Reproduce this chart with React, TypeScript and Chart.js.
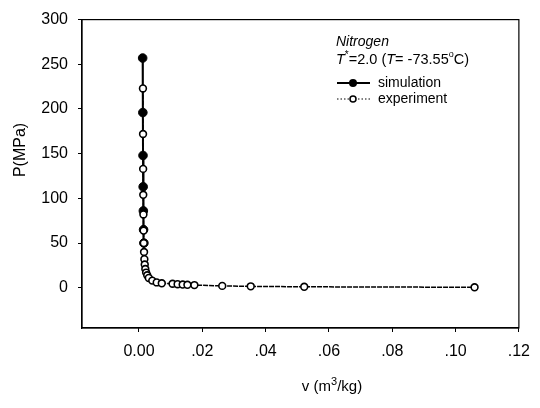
import { useEffect, useRef } from "react";
import { Chart, registerables } from "chart.js";

Chart.register(...registerables);

// ---- data (v in m^3/kg, P in MPa) ----
const simV = [0.00116, 0.00122, 0.00127, 0.00132, 0.00138, 0.00145, 0.00155];
const simP = [257, 196, 148, 113, 86, 65, 50];

const expV = [
  0.00125, 0.00128, 0.00131, 0.00135, 0.0014, 0.00146, 0.00152, 0.0016, 0.0017,
  0.00182, 0.002, 0.00225, 0.0026, 0.0031, 0.0042, 0.0056, 0.0072, 0.0106,
  0.0122, 0.0138, 0.0153, 0.0175, 0.0263, 0.0353, 0.0522, 0.106,
];
const expP = [
  223, 172, 133, 104, 82, 64, 50, 40, 32, 26, 21, 17, 14, 11, 8, 6, 5, 4.5, 4,
  3.6, 3.3, 3, 2.1, 1.6, 1.1, 0.55,
];

const xTicks = [0, 0.02, 0.04, 0.06, 0.08, 0.1, 0.12];
const yTicks = [0, 50, 100, 150, 200, 250, 300];

const xTitleParts = ["v (m", "3", "/kg)"];
const yTitle = "P(MPa)";
const gasName = "Nitrogen";
const seriesNames = ["simulation", "experiment"];

const FONT = "'Liberation Sans', Arial, sans-serif";

const annotate = {
  id: "annotate",
  beforeDatasetsDraw(chart: any) {
    const { ctx, chartArea } = chart;
    ctx.save();
    ctx.strokeStyle = "#000";
    ctx.lineWidth = 1.2;
    ctx.strokeRect(chartArea.left, chartArea.top, chartArea.right - chartArea.left, chartArea.bottom - chartArea.top);
    ctx.restore();
  },
  afterDraw(chart: any) {
    const { ctx } = chart;
    ctx.save();
    ctx.fillStyle = "#000";
    ctx.textBaseline = "middle";

    // x axis title with superscript
    ctx.textAlign = "left";
    const xf: [string, string, number][] = [
      [xTitleParts[0], "15px", 0],
      [xTitleParts[1], "11px", -5],
      [xTitleParts[2], "15px", 0],
    ];
    let tw = 0;
    for (const [t, f] of xf) {
      ctx.font = `${f} ${FONT}`;
      tw += ctx.measureText(t).width;
    }
    let xx = 332 - tw / 2;
    for (const [t, f, dy] of xf) {
      ctx.font = `${f} ${FONT}`;
      ctx.fillText(t, xx, 387 + dy);
      xx += ctx.measureText(t).width;
    }

    // y axis title
    ctx.font = `16px ${FONT}`;
    ctx.textAlign = "center";
    ctx.save();
    ctx.translate(21, 150);
    ctx.rotate(-Math.PI / 2);
    ctx.fillText(yTitle, 0, 0);
    ctx.restore();

    // annotation block
    ctx.textAlign = "left";
    const x0 = 336;
    ctx.font = `italic 14px ${FONT}`;
    ctx.fillText(gasName, x0, 42);

    const pieces: [string, string, number][] = [
      ["T", "italic 14.5px", 0],
      ["*", "10px", -5],
      ["=2.0 (", "14.5px", 0],
      ["T", "italic 14.5px", 0],
      ["= -73.55", "14.5px", 0],
      ["o", "9px", -5],
      ["C)", "14.5px", 0],
    ];
    let x = x0;
    for (const [t, f, dy] of pieces) {
      ctx.font = `${f} ${FONT}`;
      ctx.fillText(t, x, 60 + dy);
      x += ctx.measureText(t).width;
    }

    // legend
    ctx.font = `14px ${FONT}`;
    const ly = [83, 99];
    ctx.strokeStyle = "#000";
    ctx.lineWidth = 2;
    ctx.setLineDash([]);
    ctx.beginPath();
    ctx.moveTo(337, ly[0]);
    ctx.lineTo(370, ly[0]);
    ctx.stroke();
    ctx.beginPath();
    ctx.arc(353, ly[0], 4, 0, Math.PI * 2);
    ctx.fill();
    ctx.fillText(seriesNames[0], 378, ly[0]);

    ctx.lineWidth = 1;
    ctx.setLineDash([1.5, 2]);
    ctx.beginPath();
    ctx.moveTo(337, ly[1]);
    ctx.lineTo(370, ly[1]);
    ctx.stroke();
    ctx.setLineDash([]);
    ctx.fillStyle = "#fff";
    ctx.lineWidth = 1.5;
    ctx.beginPath();
    ctx.arc(353, ly[1], 3, 0, Math.PI * 2);
    ctx.fill();
    ctx.stroke();
    ctx.fillStyle = "#000";
    ctx.fillText(seriesNames[1], 378, ly[1]);
    ctx.restore();
  },
};

export default function App() {
  const ref = useRef<HTMLCanvasElement | null>(null);
  useEffect(() => {
    document.body.style.margin = "0";
    const canvas = ref.current!;
    const chart = new Chart(canvas, {
      type: "scatter",
      data: {
        datasets: [
          {
            label: seriesNames[1],
            data: expV.map((v, i) => ({ x: v, y: expP[i] })),
            showLine: true,
            borderColor: "#000",
            borderWidth: 1.5,
            borderDash: [5, 1],
            pointRadius: 3.4,
            pointBackgroundColor: "#fff",
            pointBorderColor: "#000",
            pointBorderWidth: 1.6,
            order: 0,
          },
          {
            label: seriesNames[0],
            data: simV.map((v, i) => ({ x: v, y: simP[i] })),
            showLine: true,
            borderColor: "#000",
            borderWidth: 2,
            pointRadius: 4.3,
            pointBackgroundColor: "#000",
            pointBorderColor: "#000",
            pointBorderWidth: 1,
            order: 1,
          },
        ],
      },
      options: {
        responsive: false,
        animation: false,
        layout: { padding: { top: 14, right: 17, left: 0, bottom: 0 } },
        plugins: { legend: { display: false }, tooltip: { enabled: false } },
        scales: {
          x: {
            type: "linear",
            min: -0.018,
            max: 0.12,
            afterBuildTicks: (s: any) => {
              s.ticks = xTicks.map((v) => ({ value: v }));
            },
            afterFit: (s: any) => {
              s.height = 80;
            },
            ticks: {
              color: "#000",
              font: { family: FONT, size: 16 },
              padding: 10,
              maxRotation: 0,
              callback: (v: any) => (v === 0 ? "0.00" : Number(v).toFixed(2).replace(/^0/, "")),
            },
            grid: { drawOnChartArea: false, drawTicks: true, tickLength: 4, color: "#000" },
            border: { display: true, color: "#000", width: 1.2 },
          },
          y: {
            type: "linear",
            min: -45,
            max: 300,
            afterBuildTicks: (s: any) => {
              s.ticks = yTicks.map((v) => ({ value: v }));
            },
            afterFit: (s: any) => {
              s.width = 82;
            },
            ticks: {
              color: "#000",
              font: { family: FONT, size: 16 },
              padding: 10,
              callback: (v: any) => String(v),
            },
            grid: { drawOnChartArea: false, drawTicks: true, tickLength: 4, color: "#000" },
            border: { display: true, color: "#000", width: 1.2 },
          },
        },
      },
      plugins: [annotate],
    });
    return () => chart.destroy();
  }, []);
  return <canvas ref={ref} width={540} height={408} style={{ display: "block" }} />;
}
